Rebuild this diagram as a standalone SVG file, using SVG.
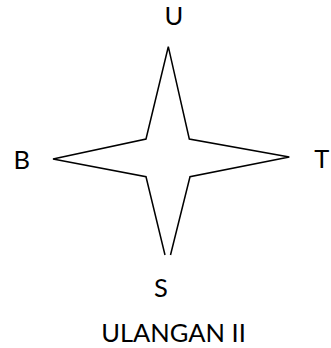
<svg xmlns="http://www.w3.org/2000/svg" width="331" height="348" viewBox="0 0 331 348">
  <style>
    .lbl { font-family: Lato, "Open Sans", "Liberation Sans", sans-serif; font-size: 25.5px; fill: #000; text-anchor: middle; }
    .star { fill: #fff; stroke: #000; stroke-width: 1.5; stroke-linejoin: miter; }
  </style>
  <rect width="331" height="348" fill="#fff"/>
  <g id="connectors"></g>
  <g id="star">
    <path class="star" d="M165,255 L146,176.7 L53,159 L146,139 L168.3,46.7 L189.3,139 L289.3,157 L190,176.7 L170.5,255"/>
  </g>
  <g id="label-u"><text class="lbl" x="174" y="25.2">U</text></g>
  <g id="label-b"><text class="lbl" x="21.7" y="169">B</text></g>
  <g id="label-t"><text class="lbl" x="321.7" y="168.3">T</text></g>
  <g id="label-s"><text class="lbl" x="161" y="296.5">S</text></g>
  <g id="title"><text class="lbl" x="173.5" y="341.7">ULANGAN II</text></g>
</svg>
